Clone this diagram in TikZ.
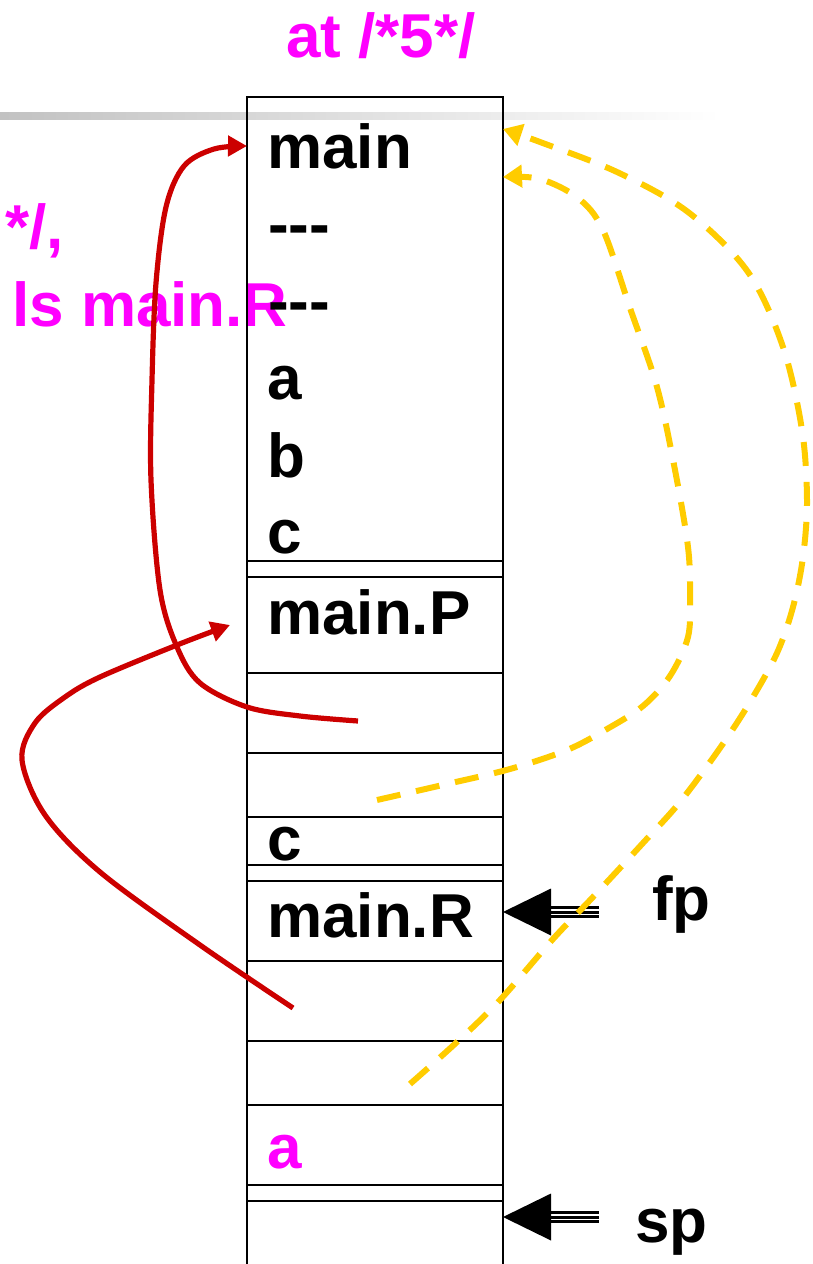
\documentclass[tikz,border=0pt]{standalone}
\usepackage{fontspec}
\setmainfont{Liberation Sans}
\usetikzlibrary{arrows.meta}
\definecolor{magT}{HTML}{FF00FF}
\definecolor{redA}{HTML}{CC0000}
\definecolor{yelA}{HTML}{FFCC00}
\begin{document}
\begin{tikzpicture}[x=1pt,y=-1pt,
  lbl/.style={inner sep=0pt, anchor=base west, font=\fontsize{62}{62}\selectfont\bfseries},
  mag/.style={lbl, text=magT},
  cellline/.style={line width=2.6pt},
  redarr/.style={draw=redA, line width=5.2pt, -{Triangle[length=19pt,width=20pt]}},
  yelarr/.style={draw=yelA, line width=6pt, dash pattern=on 24pt off 16pt, -{Triangle[length=19pt,width=22pt]}},
  ptrline/.style={line width=3pt},
  ptrhead/.style={fill=black}
]
\useasboundingbox (0,0) rectangle (813,1264);
% gray rule
\shade[left color=black!24, right color=white] (0,112.5) rectangle (720,119.5);
% top texts
\node[mag, anchor=base] (ttl) at (381,57) {at /*5*/};
\node[mag, anchor=base east] (tl1) at (64,248) {*/,};
\node[mag, anchor=base east] (tl2) at (288,326) {ls main.R};
% stack
\draw[cellline] (247,1264) -- (247,97) -- (503,97) -- (503,1264);
\foreach \yy in {561,577,673,753,817,865,881,961,1041,1105,1185,1201}
  \draw[cellline] (247,\yy) -- (503,\yy);
\node[lbl] (sMain) at (267,168) {main};
\node[lbl] (sD1) at (268,245) {-{}-{}-};
\node[lbl] (sD2) at (268,322) {-{}-{}-};
\node[lbl] (sA) at (267,399) {a};
\node[lbl] (sB) at (267,477) {b};
\node[lbl] (sC) at (267,553) {c};
\node[lbl] (sMP) at (267,634) {main.P};
\node[lbl] (sC2) at (267,860) {c};
\node[lbl] (sMR) at (267,937) {main.R};
\node[mag] (sA2) at (267,1168) {a};
% pointer labels
\node[lbl] (fp) at (652,920) {fp};
\node[lbl] (sp) at (635,1242) {sp};
% fp / sp arrows
\coordinate (fpTip) at (503,912);
\coordinate (spTip) at (503,1217);
\foreach \t in {fpTip,spTip}{
  \fill[ptrhead] (\t) -- ++(48,-23.5) -- ++(0,47) -- cycle;
  \draw[ptrline] ([xshift=48pt,yshift=-4.8pt]\t) -- ++(48,0);
  \draw[ptrline] ([xshift=48pt]\t) -- ++(48,0);
  \draw[ptrline] ([xshift=48pt,yshift=4.8pt]\t) -- ++(48,0);
}
% red arrows
\coordinate (r1s) at (358,721);
\coordinate (r1e) at (247,146);
\draw[redarr] plot[smooth, tension=0.55] coordinates {(r1s) (300,716) (247,707) (200,683) (177,647) (160,590) (151,480) (152,380) (156,283) (166,207) (184,166) (214,149) (r1e)};
\coordinate (r2s) at (293,1008);
\coordinate (r2e) at (230,625);
\draw[redarr] plot[smooth, tension=0.55] coordinates {(r2s) (200,945) (100,872) (45,815) (22,760) (35,723) (65,697) (100,677) (177,645) (r2e)};
% yellow arrows
\coordinate (y1s) at (377,800);
\coordinate (y1e) at (503,177);
\draw[yelarr] plot[smooth, tension=0.55] coordinates {(y1s) (447,784) (510,769) (567,750) (607,729) (643,706) (670,676) (688,637) (690,595) (688,547) (675,470) (657,387) (630,308) (603,230) (578,198) (540,179) (y1e)};
\coordinate (y2s) at (410,1084);
\coordinate (y2e) at (503,129);
\draw[yelarr] plot[smooth, tension=0.55] coordinates {(y2s) (457,1042) (500,1000) (553,939) (593,897) (643,843) (680,802) (720,748) (750,702) (777,653) (793,607) (803,557) (807,500) (802,430) (783,347) (748,272) (688,212) (617,172) (540,142) (y2e)};
\end{tikzpicture}
\end{document}
